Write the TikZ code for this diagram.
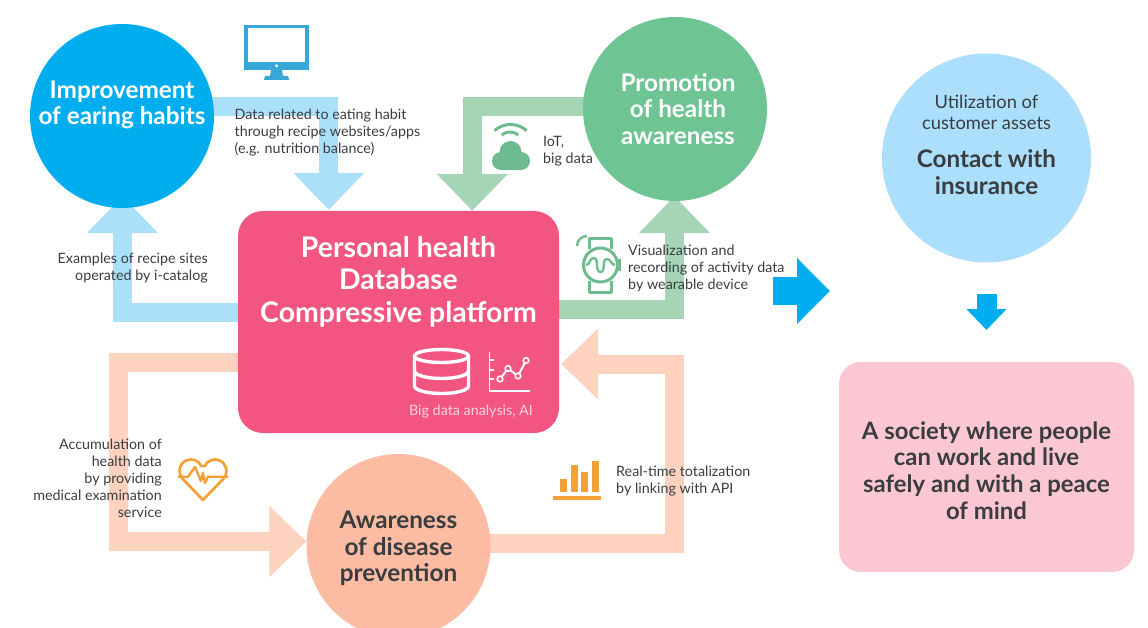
\documentclass[tikz,border=0pt]{standalone}
\usepackage{fontspec}
\setmainfont{Lato}
\usetikzlibrary{arrows.meta,calc,backgrounds}
\definecolor{cblue}{HTML}{00AEEF}
\definecolor{lblue}{HTML}{ABE0FB}
\definecolor{cgreen}{HTML}{6EC593}
\definecolor{lgreen}{HTML}{A5D5B5}
\definecolor{cpeach}{HTML}{FBBCA3}
\definecolor{lpeach}{HTML}{FDD3C0}
\definecolor{cpink}{HTML}{F2557F}
\definecolor{spink}{HTML}{FBC7D2}
\definecolor{cust}{HTML}{ABDFFB}
\definecolor{dtext}{HTML}{3A3D40}
\definecolor{orng}{HTML}{F4A035}
\definecolor{mon}{HTML}{38A6D8}
\definecolor{icong}{HTML}{6DBB8E}
\tikzset{
  disc/.style={circle,minimum size=184pt,inner sep=0pt,align=center},
  bigw/.style={font=\fontsize{24.3}{26.5}\selectfont\bfseries,text=white,align=center,inner sep=0pt},
  bigd/.style={font=\fontsize{24.3}{26.5}\selectfont\bfseries,text=dtext,align=center,inner sep=0pt},
  small/.style={font=\fontsize{14.3}{17}\selectfont,text=dtext,inner sep=0pt},
  flow/.style={line width=19pt,line join=miter,-{Triangle[length=37pt,width=69pt]}},
}
\begin{document}
\begin{tikzpicture}[x=1pt,y=-1pt]
\useasboundingbox (0,0) rectangle (1148,628);
% main nodes
\node[disc,fill=cblue] (imp) at (122,116) {};
\node[disc,fill=cgreen] (prom) at (675,109) {};
\node[disc,fill=cpeach] (aware) at (398.5,546) {};
\node[circle,minimum size=209pt,inner sep=0pt,fill=cust] (contact) at (986.5,158) {};
\node[rectangle,rounded corners=25pt,minimum width=321pt,minimum height=222pt,inner sep=0pt,fill=cpink] (db) at (398.5,322) {};
\node[rectangle,rounded corners=22pt,minimum width=295pt,minimum height=210pt,inner sep=0pt,fill=spink] (society) at (986.5,467) {};
% large labels
\node[bigw] (tImp) at (122,105) {Improvement\\of earing habits};
\node[bigw] (tProm) at (678,109) {Promotion\\of health\\awareness};
\node[bigd] (tAw) at (398.5,548.5) {Awareness\\of disease\\prevention};
\node[font=\fontsize{28.4}{32.5}\selectfont\bfseries,text=white,align=center,inner sep=0pt] (tDb) at (398.5,281.5) {Personal health\\Database\\Compressive platform};
\node[font=\fontsize{18.3}{21}\selectfont,text=dtext,align=center,inner sep=0pt] (tUt) at (986.5,112.5) {Utilization of\\customer assets};
\node[font=\fontsize{24.2}{27}\selectfont\bfseries,text=dtext,align=center,inner sep=0pt] (tCo) at (986.5,172) {Contact with\\insurance};
\node[font=\fontsize{23.9}{26.7}\selectfont\bfseries,text=dtext,align=center,inner sep=0pt] (tSo) at (986.5,470.5) {A society where people\\can work and live\\safely and with a peace\\of mind};
% small labels
\node[small,align=left,anchor=west] (l1) at (234.5,133) {Data related to eating habit\\through recipe websites/apps\\(e.g. nutrition balance)};
\node[small,align=left,anchor=west] (l2) at (543,151) {IoT,\\big data};
\node[small,align=right,anchor=east] (l3) at (208,268.5) {Examples of recipe sites\\operated by i-catalog};
\node[small,align=left,anchor=west] (l4) at (628,268.5) {Visualization and\\recording of activity data\\by wearable device};
\node[small,align=right,anchor=east] (l5) at (162,478.5) {Accumulation of\\health data\\by providing\\medical examination\\service};
\node[small,align=left,anchor=west] (l6) at (616,481.5) {Real-time totalization\\by linking with API};
\node[small,text=white!75!cpink] (l7) at (471,412) {Big data analysis, AI};
% connectors
\begin{pgfonlayer}{background}
\draw[flow,draw=lblue] ($(imp.center)+(0,-9.5)$) -| ($(db.north west)+(91,-1)$);
\draw[flow,draw=lblue] ($(db.west)+(1,-9.5)$) -| ($(imp.south)+(0.5,-12)$);
\draw[flow,draw=lgreen] ($(prom.center)+(0,-2.5)$) -| ($(db.north west)+(234.5,0)$);
\draw[flow,draw=lgreen] ($(db.east)+(-1,-13)$) -| ($(prom.south)+(-0.5,-5)$);
\draw[flow,draw=lpeach] ($(db.west)+(1,40)$) -- ++(-120,0) |- ($(aware.west)+(0,-4.5)$);
\draw[flow,draw=lpeach] ($(aware.center)+(0,-2.5)$) -- ++(276,0) |- ($(db.east)+(2,42)$);
\end{pgfonlayer}
\coordinate (b1) at (773,291);
\coordinate (b2) at (830,291);
\coordinate (s1) at (986.5,294);
\coordinate (s2) at (986.5,330);
\draw[line width=27pt,draw=cblue,-{Triangle[length=33pt,width=64pt]}] (b1) -- (b2);
\draw[line width=20pt,draw=cblue,-{Triangle[length=21pt,width=39pt]}] (s1) -- (s2);
% monitor icon
\fill[mon] (244,25) rectangle (309,70);
\fill[white] (248,28) rectangle (305,62);
\fill[white] (276.5,65.8) circle (1.7);
\fill[mon] (271,70) -- (282,70) -- (283,76) -- (288,76) -- (289,80) -- (264,80) -- (265,76) -- (270,76) -- cycle;
% cloud and wifi icon
\fill[icong] (510.5,152) circle (11);
\fill[icong] (501,161) circle (9);
\fill[icong] (521,161) circle (9);
\fill[icong] (501,158) rectangle (521,170);
\draw[icong,line width=3pt] (510.5,148.5) ++(-132:24) arc (-132:-48:24);
\draw[icong,line width=3pt] (510,145) ++(-130:13) arc (-130:-50:13);
% database icon
\begin{scope}[white,line width=3.4pt]
\draw (441.5,356) ellipse (27 and 6.5);
\draw (414.5,356) -- (414.5,386) arc (180:0:27 and 7.5) -- (468.5,356);
\draw (414.5,371) arc (180:0:27 and 7.5);
\end{scope}
% chart icon
\draw[white,line width=1.8pt] (489.5,352) -- (489.5,391) -- (529.5,391);
\foreach \yy in {360,370,379} \draw[white,line width=1.5pt] (489.5,\yy) -- (494,\yy);
\draw[white,line width=2pt] (500,379) -- (508,368.5) -- (518,376) -- (526,360.5);
\foreach \xx/\yy in {500/379,508/368.5,518/376,526/360.5} \draw[white,fill=cpink,line width=1.6pt] (\xx,\yy) circle (2.8);
% watch icon
\begin{scope}[icong,line width=3pt,line join=round]
\draw (589,249) -- (589,239) -- (611,239) -- (611,249);
\draw (589,281) -- (589,292) -- (611,292) -- (611,281);
\draw (600.5,265) circle (17);
\draw[line width=3.5pt] (619.5,259) -- (619.5,271);
\draw[line width=2.4pt] (586,265) to[out=0,in=180] (593.5,258) to[out=0,in=180] (600.5,272) to[out=0,in=180] (607,259) to[out=0,in=180] (615,265);
\draw[line width=2.4pt] (577,246) arc (180:270:10);
\end{scope}
% heart icon
\draw[orng,line width=2.7pt,line join=round] (201.4,466.1) arc (-25:-225:11.5) -- (203,500) -- (223.1,479.1) arc (45:-155:11.5) -- cycle;
\draw[orng,line width=2.4pt,line join=round] (178,476.7) -- (188,476.7) -- (195,467) -- (201,481) -- (203,473) -- (205,483) -- (208,476.7) -- (228,476.7);
% bars icon
\fill[orng] (553,496) rectangle (601,499.5);
\fill[orng] (560,479) rectangle (567,492);
\fill[orng] (570.5,465) rectangle (577.5,492);
\fill[orng] (581,472) rectangle (588,492);
\fill[orng] (591.5,461) rectangle (598.5,492);
\end{tikzpicture}
\end{document}
